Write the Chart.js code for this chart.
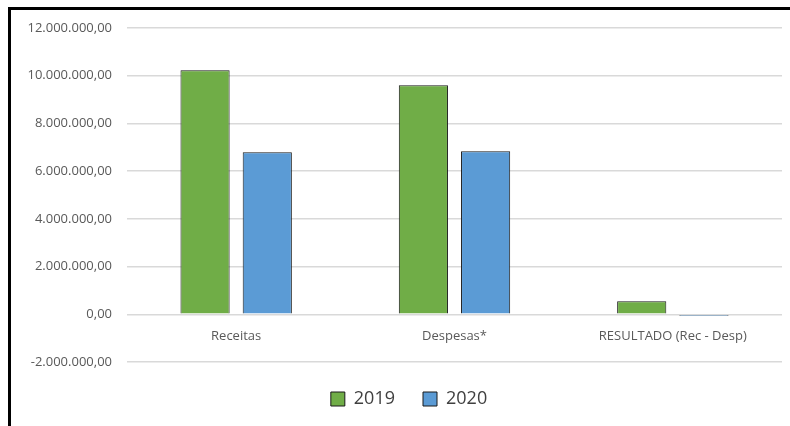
<!DOCTYPE html>
<html lang="pt">
<head>
    <meta charset="UTF-8">
    <title>Receitas x Despesas</title>
    <script src="https://cdn.jsdelivr.net/npm/chart.js@4.4.1/dist/chart.umd.min.js"></script>
    <style>
        html, body {
            margin: 0;
            padding: 0;
            background: #ffffff;
        }
        .frame {
            position: absolute;
            left: 8px;
            top: 7px;
            width: 782px;
            height: 419px;
            border-top: 3px solid #000;
            border-left: 3px solid #000;
        }
        .chart-box {
            position: absolute;
            left: 0;
            top: 0;
            width: 790px;
            height: 426px;
        }
    </style>
</head>
<body>
    <div class="frame"></div>
    <div class="chart-box">
        <canvas id="barChart"></canvas>
    </div>

    <script>
        // Data
        const categories = ['Receitas', 'Despesas*', 'RESULTADO (Rec - Desp)'];
        const values2019 = [10230000, 9600000, 545000];
        const values2020 = [6790000, 6830000, -60000];
        const seriesLabels = ['2019', '2020'];

        // 12.000.000,00 style numbers
        function formatBR(v) {
            const neg = v < 0;
            let s = Math.abs(Math.round(v)).toString();
            s = s.replace(/\B(?=(\d{3})+(?!\d))/g, '.');
            return (neg ? '-' : '') + s + ',00';
        }

        // nudge the legend a bit to the right, like the original
        const legendShift = {
            id: 'legendShift',
            afterLayout: function (chart) {
                if (chart.legend) {
                    chart.legend.left += 9;
                    chart.legend.right += 9;
                }
            }
        };

        Chart.defaults.font.family = "'Open Sans', sans-serif";
        Chart.defaults.color = '#595959';

        const ctx = document.getElementById('barChart').getContext('2d');
        const barChart = new Chart(ctx, {
            type: 'bar',
            data: {
                labels: categories,
                datasets: [{
                    label: seriesLabels[0],
                    data: values2019,
                    backgroundColor: '#70AD47',
                    borderColor: '#1a1a1a',
                    borderWidth: 1,
                    categoryPercentage: 0.57,
                    barPercentage: 0.79
                }, {
                    label: seriesLabels[1],
                    data: values2020,
                    backgroundColor: '#5B9BD5',
                    borderColor: '#1a1a1a',
                    borderWidth: 1,
                    categoryPercentage: 0.57,
                    barPercentage: 0.79
                }]
            },
            options: {
                responsive: true,
                maintainAspectRatio: false,
                animation: false,
                layout: {
                    padding: { top: 28, right: 8, bottom: 8, left: 18 }
                },
                plugins: {
                    tooltip: { enabled: false },
                    legend: {
                        position: 'bottom',
                        labels: {
                            color: '#404040',
                            font: { size: 18 },
                            boxWidth: 14,
                            boxHeight: 14,
                            padding: 28
                        }
                    }
                },
                scales: {
                    x: {
                        position: { y: 0 },
                        grid: { display: false },
                        border: { display: false },
                        ticks: {
                            font: { size: 13 },
                            padding: 6
                        }
                    },
                    y: {
                        min: -2000000,
                        max: 12000000,
                        grid: { color: '#d9d9d9', lineWidth: 1.5, drawTicks: false },
                        border: { display: false },
                        afterFit: function (scale) { scale.width = 109; },
                        ticks: {
                            stepSize: 2000000,
                            font: { size: 13 },
                            padding: 15,
                            callback: function (v) { return formatBR(v); }
                        }
                    }
                }
            },
            plugins: [legendShift]
        });
    </script>
</body>
</html>
